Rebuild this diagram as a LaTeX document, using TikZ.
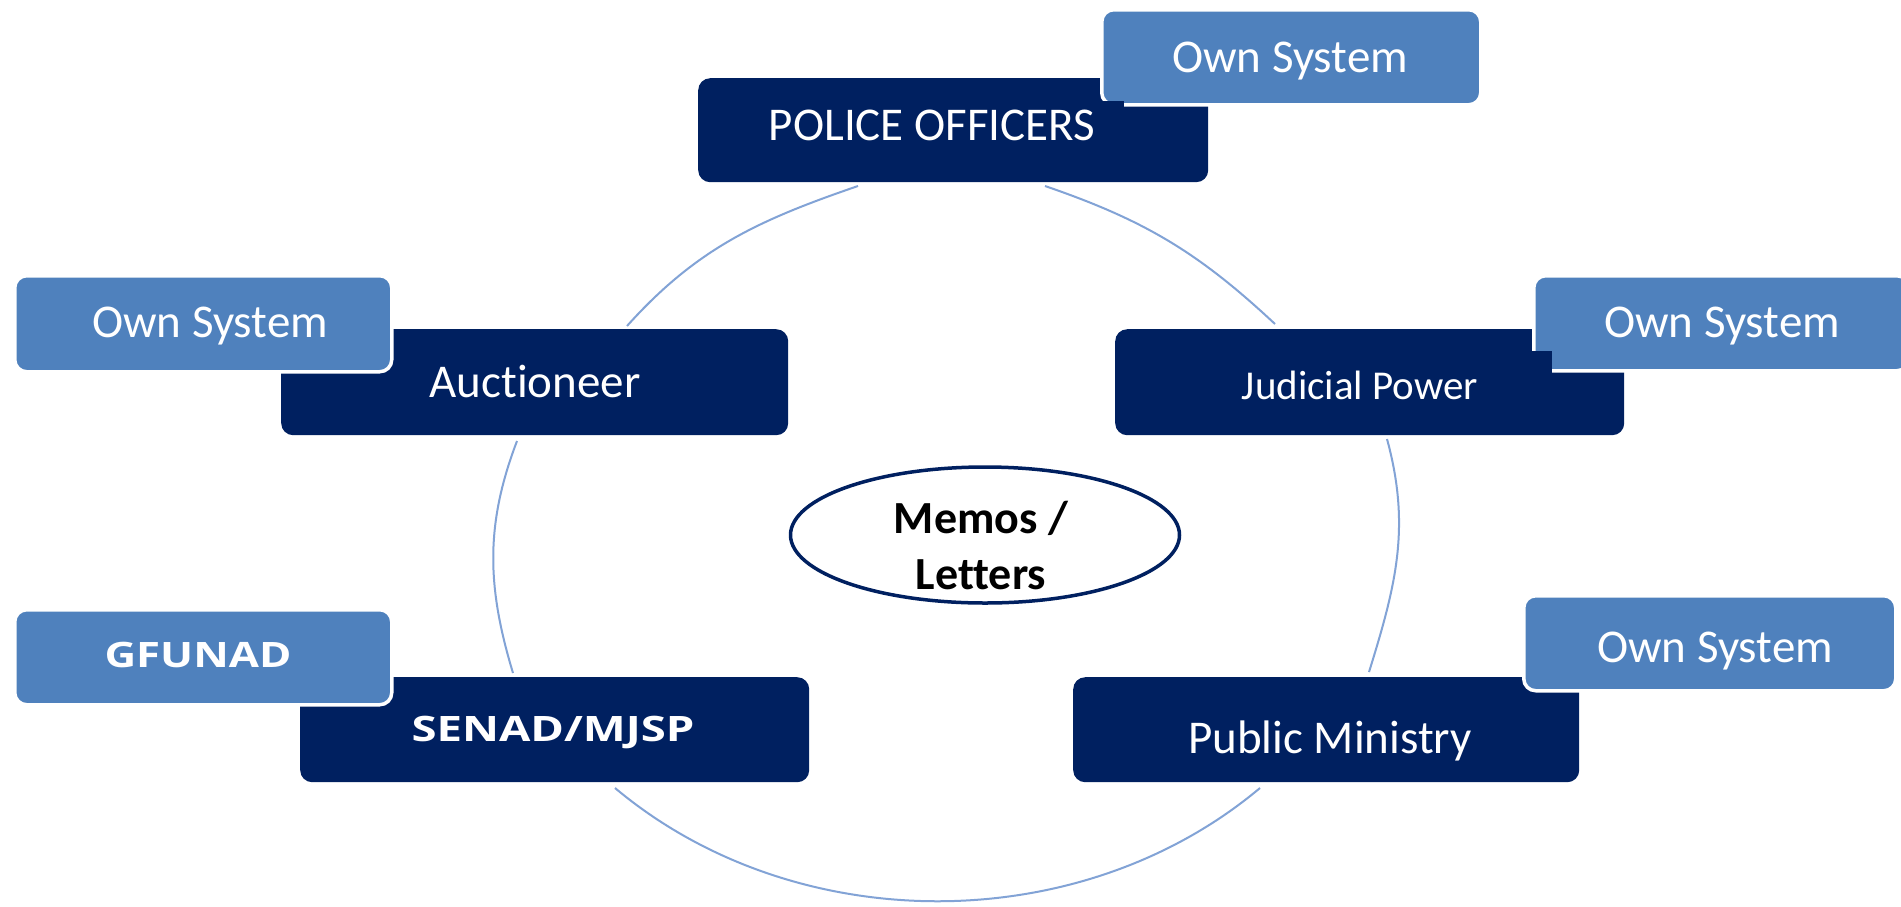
\documentclass[tikz,border=0pt]{standalone}
\usepackage{fontspec}
\usepackage{graphicx}
\setmainfont{Carlito}[Ligatures={NoCommon}]
\newfontfamily\osans{Open Sans}
\usetikzlibrary{shapes.geometric}
\definecolor{navy}{RGB}{0,32,96}
\definecolor{lightbox}{RGB}{79,129,189}
\definecolor{arcblue}{RGB}{130,163,214}
\tikzset{
  darkbox/.style={fill=navy, rounded corners=12pt, inner sep=0pt, anchor=north west},
  lightbx/.style={fill=lightbox, draw=white, line width=3.5pt, rounded corners=12pt, inner sep=0pt, anchor=north west},
  lbl/.style={text=white, inner sep=0pt, text height=30.3pt, text depth=0pt, font=\fontsize{47}{56}\selectfont},
  jlbl/.style={text=white, inner sep=0pt, text height=26.4pt, text depth=0pt, font=\fontsize{41}{48}\selectfont},
  blbl/.style={text=white, inner sep=0pt, text height=25pt, text depth=0pt, font=\osans\bfseries\fontsize{35}{40}\selectfont},
  cyc/.style={draw=arcblue, line width=2pt},
  patch/.style={fill=navy, draw=none}
}
\begin{document}
\begin{tikzpicture}[x=1pt,y=-1pt]
\path[use as bounding box, fill=white] (0,0) rectangle (1901,906);

% cycle arcs
\coordinate (a1s) at (627,326); \coordinate (a1e) at (858,186);
\coordinate (a2s) at (1045,186); \coordinate (a2e) at (1275,324);
\coordinate (a3s) at (1387,439); \coordinate (a3e) at (1369,672);
\coordinate (a4s) at (1260,788); \coordinate (a4e) at (615,788);
\coordinate (a5s) at (513,673); \coordinate (a5e) at (517,441);
\draw[cyc] (a1s) .. controls (697,248) and (759,220) .. (a1e);
\draw[cyc] (a2s) .. controls (1144,220) and (1198,252) .. (a2e);
\draw[cyc] (a3s) .. controls (1411,527) and (1396,585) .. (a3e);
\draw[cyc] (a4s) .. controls (1080,939) and (795,939) .. (a4e);
\draw[cyc] (a5s) .. controls (487,587) and (485,525) .. (a5e);

% centre ellipse
\node[ellipse, draw=navy, line width=3.5pt, minimum width=389pt, minimum height=136pt, inner sep=0pt] (memo) at (985,535) {};
\node[align=center, inner sep=0pt, font=\bfseries\fontsize{46}{56}\selectfont] (memot) at (981,546) {Memos /\\Letters};

% POLICE OFFICERS
\node[darkbox, minimum width=510pt, minimum height=104pt] (police) at (698,78) {};
\node[lightbx, minimum width=379pt, minimum height=95pt] (own1) at (1100,8) {};
\fill[patch] (1099,101) rectangle (1124,111);
\node[lbl] (policet) at (932,125) {POLICE OFFICERS};
\node[lbl] (own1t) at (1290,57) {Own System};

% Auctioneer
\node[darkbox, minimum width=507pt, minimum height=106pt] (auct) at (281,329) {};
\node[lightbx, minimum width=377pt, minimum height=96pt] (own2) at (13,274) {};
\node[lbl] (auctt) at (535,382) {Auctioneer};
\node[lbl] (own2t) at (210,322) {Own System};

% Judicial Power
\node[darkbox, minimum width=509pt, minimum height=106pt] (jud) at (1115,329) {};
\node[lightbx, minimum width=375pt, minimum height=95pt] (own3) at (1532,274) {};
\fill[patch] (1524,351) rectangle (1552,375);
\node[jlbl] (judt) at (1360,386) {Judicial Power};
\node[lbl] (own3t) at (1722,322) {Own System};

% SENAD/MJSP
\node[darkbox, minimum width=509pt, minimum height=105pt] (senad) at (300,677) {};
\node[lightbx, minimum width=377pt, minimum height=95pt] (gfunad) at (13,608) {};
\node[blbl] (senadt) at (553,729) {\scalebox{1.3}[1]{SENAD/MJSP}};
\node[blbl] (gfunadt) at (198,655) {\scalebox{1.25}[1]{GFUNAD}};

% Public Ministry
\node[darkbox, minimum width=506pt, minimum height=105pt] (pub) at (1073,677) {};
\node[lightbx, minimum width=372pt, minimum height=95pt] (own4) at (1522,594) {};
\node[lbl] (pubt) at (1330,738) {Public Ministry};
\node[lbl] (own4t) at (1715,647) {Own System};
\end{tikzpicture}
\end{document}
